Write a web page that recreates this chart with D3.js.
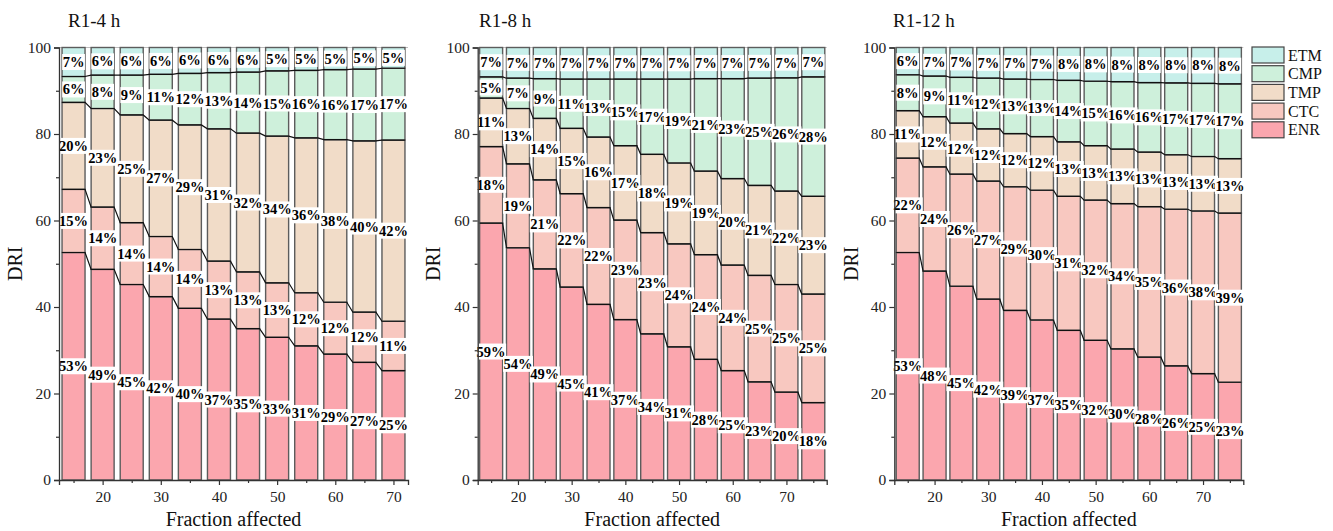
<!DOCTYPE html>
<html>
<head>
<meta charset="utf-8">
<script src="https://cdn.jsdelivr.net/npm/d3@7"></script>
<style>
  html, body { margin: 0; padding: 0; background: #fff; }
  svg { display: block; }
  text { font-family: "Liberation Serif", "Times New Roman", Times, serif; }
</style>
</head>
<body>
<svg id="chart" width="1333" height="531"></svg>
<script>
// ---------------- DATA ----------------
const seriesNames = ["ENR", "CTC", "TMP", "CMP", "ETM"];
const legendOrder = ["ETM", "CMP", "TMP", "CTC", "ENR"];
const seriesColors = ["#FBA6AE", "#F8C8C0", "#F1DCC8", "#CEF0DB", "#C7EFEA"];

const panelTitles = ["R1-4 h", "R1-8 h", "R1-12 h"];
const xTickValues = [20, 30, 40, 50, 60, 70];
const xMinorTicks = [15, 25, 35, 45, 55, 65, 75];
const yTickValues = [0, 20, 40, 60, 80, 100];
const yMinorTicks = [10, 30, 50, 70, 90];

// Panel 1: R1-4 h (share of DRI, %)
const fraction4h = [15, 20, 25, 30, 35, 40, 45, 50, 55, 60, 65, 70];
const enr4h = [52.6, 48.7, 45.2, 42.4, 39.7, 37.2, 35.0, 33.0, 31.0, 29.1, 27.2, 25.3];
const ctc4h = [14.6, 14.4, 14.3, 13.9, 13.6, 13.4, 13.1, 12.6, 12.3, 12.0, 11.6, 11.4];
const tmp4h = [20.1, 22.8, 24.9, 26.9, 28.8, 30.6, 32.1, 33.9, 35.8, 37.6, 39.6, 41.9];
const cmp4h = [6.0, 7.7, 9.2, 10.6, 11.9, 13.0, 14.1, 15.1, 15.6, 16.2, 16.6, 16.6];
const etm4h = [6.7, 6.4, 6.4, 6.2, 6.0, 5.8, 5.7, 5.4, 5.3, 5.1, 5.0, 4.8];

// Panel 2: R1-8 h
const fraction8h = [15, 20, 25, 30, 35, 40, 45, 50, 55, 60, 65, 70, 75];
const enr8h = [59.4, 53.7, 48.8, 44.6, 40.6, 37.1, 33.8, 30.8, 27.9, 25.3, 22.7, 20.3, 17.9];
const ctc8h = [17.7, 19.4, 20.6, 21.6, 22.4, 23.0, 23.4, 23.8, 24.2, 24.4, 24.6, 24.9, 25.1];
const tmp8h = [11.2, 12.8, 14.2, 15.1, 16.3, 17.2, 18.1, 18.7, 19.3, 20.0, 20.8, 21.6, 22.6];
const cmp8h = [4.9, 7.0, 9.2, 11.4, 13.4, 15.4, 17.4, 19.4, 21.4, 23.1, 24.8, 26.2, 27.6];
const etm8h = [6.8, 7.1, 7.2, 7.3, 7.3, 7.3, 7.3, 7.3, 7.2, 7.2, 7.1, 7.0, 6.8];

// Panel 3: R1-12 h
const fraction12h = [15, 20, 25, 30, 35, 40, 45, 50, 55, 60, 65, 70, 75];
const enr12h = [52.6, 48.3, 44.8, 41.8, 39.2, 37.0, 34.6, 32.3, 30.3, 28.4, 26.4, 24.6, 22.6];
const ctc12h = [21.8, 24.1, 25.9, 27.3, 28.6, 30.0, 31.0, 32.4, 33.6, 34.8, 36.2, 37.6, 39.1];
const tmp12h = [11.0, 11.6, 11.8, 12.1, 12.3, 12.4, 12.6, 12.6, 12.6, 12.6, 12.6, 12.6, 12.6];
const cmp12h = [8.3, 9.4, 10.6, 11.7, 12.6, 13.2, 14.2, 14.9, 15.6, 16.1, 16.6, 16.9, 17.3];
const etm12h = [6.3, 6.6, 6.9, 7.1, 7.3, 7.4, 7.6, 7.8, 7.9, 8.1, 8.2, 8.3, 8.4];

const panels = [
  { title: panelTitles[0], x: fraction4h, series: [enr4h, ctc4h, tmp4h, cmp4h, etm4h], xDomain: [12.5, 72.5] },
  { title: panelTitles[1], x: fraction8h, series: [enr8h, ctc8h, tmp8h, cmp8h, etm8h], xDomain: [12.5, 77.5] },
  { title: panelTitles[2], x: fraction12h, series: [enr12h, ctc12h, tmp12h, cmp12h, etm12h], xDomain: [12.5, 77.5] }
];

// ---------------- LAYOUT ----------------
const layout = [
  { x0: 59, x1: 408, titleX: 68, yLabelX: 22 },
  { x0: 477.7, x1: 826.7, titleX: 479, yLabelX: 440 },
  { x0: 894.3, x1: 1243.3, titleX: 893, yLabelX: 858 }
];
const yTop = 47.5, yBottom = 480;
const barW = 23;
const axisColor = "#333";
const serif = "'Liberation Serif', 'Times New Roman', Times, serif";

const svg = d3.select("#chart");

panels.forEach((p, pi) => {
  const L = layout[pi];
  const xS = d3.scaleLinear().domain(p.xDomain).range([L.x0, L.x1]);
  const yS = d3.scaleLinear().domain([0, 100]).range([yBottom, yTop]);
  const g = svg.append("g");

  const rows = p.x.map((xv, i) => {
    const vals = p.series.map(s => s[i]);
    const tot = d3.sum(vals);
    const row = { x: xv, raw: vals };
    seriesNames.forEach((n, k) => row[n] = vals[k] * 100 / tot);
    return row;
  });
  const stacked = d3.stack().keys(seriesNames)(rows);

  // top frame line
  g.append("line")
    .attr("x1", L.x0).attr("x2", L.x1)
    .attr("y1", yS(100)).attr("y2", yS(100))
    .attr("stroke", "#bbb").attr("stroke-width", 1);

  // bars
  stacked.forEach((layer, k) => {
    g.append("g").selectAll("rect").data(layer).enter().append("rect")
      .attr("x", d => xS(d.data.x) - barW / 2)
      .attr("width", barW)
      .attr("y", d => yS(d[1]))
      .attr("height", d => yS(d[0]) - yS(d[1]))
      .attr("fill", seriesColors[k])
      .attr("stroke", "#5c5c5c")
      .attr("stroke-width", 1.4);
  });

  // connecting lines at boundaries
  stacked.slice(0, 4).forEach(layer => {
    const pts = [];
    layer.forEach(d => {
      pts.push([xS(d.data.x) - barW / 2, yS(d[1])]);
      pts.push([xS(d.data.x) + barW / 2, yS(d[1])]);
    });
    g.append("path")
      .attr("d", d3.line()(pts))
      .attr("fill", "none")
      .attr("stroke", "#111")
      .attr("stroke-width", 1.2);
  });

  // labels
  const lg = g.append("g");
  stacked.forEach((layer, k) => {
    layer.forEach(d => {
      const cx = xS(d.data.x);
      const cy = yS((d[0] + d[1]) / 2);
      const t = lg.append("g");
      const txt = t.append("text")
        .attr("x", cx).attr("y", cy)
        .attr("text-anchor", "middle")
        .attr("dominant-baseline", "central")
        .attr("font-family", serif)
        .attr("font-size", 14.5)
        .attr("font-weight", "bold")
        .attr("fill", "#000")
        .text(Math.round(d.data.raw[k]) + "%");
      const bb = txt.node().getBBox();
      t.insert("rect", "text")
        .attr("x", bb.x - 0.5).attr("y", bb.y)
        .attr("width", bb.width + 1).attr("height", bb.height)
        .attr("fill", "#fff");
    });
  });

  // axes
  g.append("g").attr("transform", `translate(${L.x0},0)`)
    .call(d3.axisLeft(yS).tickValues(yTickValues).tickSize(5).tickPadding(3).tickFormat(d3.format("d")));
  g.append("g").attr("transform", `translate(${L.x0},0)`)
    .call(d3.axisLeft(yS).tickValues(yMinorTicks).tickSize(3).tickFormat(""))
    .select(".domain").remove();

  g.append("g").attr("transform", `translate(0,${yBottom})`)
    .call(d3.axisBottom(xS).tickValues(xTickValues).tickSize(5).tickPadding(6).tickFormat(d3.format("d")));
  g.append("g").attr("transform", `translate(0,${yBottom})`)
    .call(d3.axisBottom(xS).tickValues(xMinorTicks.filter(v => v >= p.xDomain[0] && v <= p.xDomain[1])).tickSize(3).tickFormat(""))
    .select(".domain").remove();

  g.selectAll(".domain").attr("stroke", axisColor).attr("stroke-width", 1.3);
  g.selectAll(".tick line").attr("stroke", axisColor).attr("stroke-width", 1.2);
  g.selectAll(".tick text")
    .attr("font-family", serif)
    .attr("font-size", 15.5).attr("fill", "#222");

  // title
  g.append("text").attr("x", L.titleX).attr("y", 27)
    .attr("font-family", serif)
    .attr("font-size", 19).attr("fill", "#111").text(p.title);

  // y label
  g.append("text")
    .attr("transform", `translate(${L.yLabelX},${(yTop + yBottom) / 2}) rotate(-90)`)
    .attr("text-anchor", "middle")
    .attr("font-family", serif)
    .attr("font-size", 20).attr("fill", "#111").text("DRI");

  // x label
  g.append("text")
    .attr("x", (L.x0 + L.x1) / 2).attr("y", 526)
    .attr("text-anchor", "middle")
    .attr("font-family", serif)
    .attr("font-size", 20).attr("fill", "#111").text("Fraction affected");
});

// legend
const leg = svg.append("g").attr("transform", "translate(1252,47)");
legendOrder.forEach((name, i) => {
  const k = seriesNames.indexOf(name);
  leg.append("rect")
    .attr("x", 0).attr("y", i * 18.7)
    .attr("width", 32).attr("height", 16)
    .attr("fill", seriesColors[k])
    .attr("stroke", "#444").attr("stroke-width", 1.2);
  leg.append("text")
    .attr("x", 36).attr("y", i * 18.7 + 8)
    .attr("dominant-baseline", "central")
    .attr("font-family", serif)
    .attr("font-size", 16).attr("fill", "#111").text(name);
});
</script>
</body>
</html>
